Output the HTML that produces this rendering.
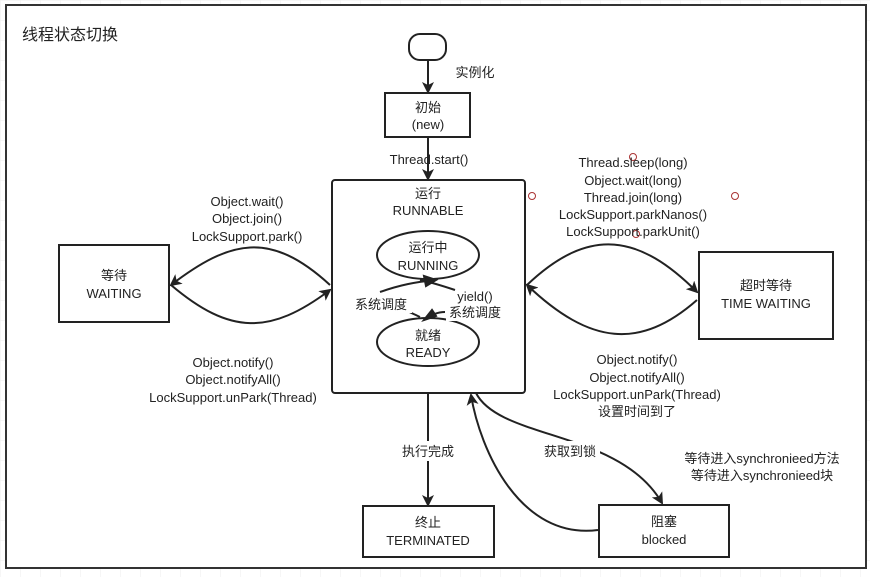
<!DOCTYPE html>
<html><head><meta charset="utf-8"><style>
body{margin:0;width:870px;height:577px;background:#fff;overflow:hidden}
text{font-family:"Liberation Sans","Noto Sans CJK SC",sans-serif;font-size:13px;fill:#222}
</style></head><body>
<svg width="870" height="577" viewBox="0 0 870 577">
<defs>
<marker id="a" markerWidth="12" markerHeight="12" refX="10" refY="6" orient="auto" markerUnits="userSpaceOnUse"><path d="M0,0 L12,6 L0,12 L3,6 z" fill="#222"/></marker>
<pattern id="g" width="20" height="20" patternUnits="userSpaceOnUse"><path d="M20 0H0V20" fill="none" stroke="#eee"/></pattern>
</defs>
<rect width="870" height="577" fill="url(#g)"/>
<rect x="6" y="5" width="860" height="563" fill="#fff" stroke="#333" stroke-width="2"/>
<text x="22" y="40" style="font-size:16px">线程状态切换</text>
<g fill="none" stroke="#222" stroke-width="2">
<rect x="409" y="34" width="37" height="26" rx="11"/>
<rect x="385" y="93" width="85" height="44"/>
<rect x="332" y="180" width="193" height="213" rx="3"/>
<rect x="59" y="245" width="110" height="77"/>
<rect x="699" y="252" width="134" height="87"/>
<rect x="363" y="506" width="131" height="51"/>
<rect x="599" y="505" width="130" height="52"/>
<ellipse cx="428" cy="255" rx="51" ry="24"/>
<ellipse cx="428" cy="342" rx="51" ry="24"/>
<path d="M428 60V92" marker-end="url(#a)"/>
<path d="M428 137V179" marker-end="url(#a)"/>
<path d="M330 285C270 230 230 240 171 285" marker-end="url(#a)"/>
<path d="M171 285C230 335 270 335 330 290" marker-end="url(#a)"/>
<path d="M527 285C590 225 640 235 697 292" marker-end="url(#a)"/>
<path d="M697 300C640 350 590 345 527 285" marker-end="url(#a)"/>
<path d="M428 393V505" marker-end="url(#a)"/>
<path d="M598 530C520 540 480 450 471 395" marker-end="url(#a)"/>
<path d="M476 393C500 440 620 430 662 503" marker-end="url(#a)"/>
<path d="M380 292C400 285 415 282 436 280"/>
<path d="M436 280l-12-4l2 10z" fill="#222"/>
<path d="M455 290C440 285 430 282 420 280"/>
<path d="M420 317C405 310 395 305 380 300"/>
<path d="M445 312C438 312 430 315 424 320"/>
<path d="M424 320l12-4l-4-6z" fill="#222"/>
</g>
<g fill="#fff"><rect x="398" y="441" width="60" height="20"/><rect x="538" y="441" width="62" height="20"/><rect x="352" y="296" width="60" height="17"/><rect x="446" y="305" width="58" height="16"/></g>
<g fill="none" stroke="#a33"><circle cx="633" cy="157" r="3.5"/><circle cx="532" cy="196" r="3.5"/><circle cx="735" cy="196" r="3.5"/><circle cx="636" cy="234" r="3.5"/></g>
<g text-anchor="middle">
<text x="475" y="77">实例化</text>
<text x="428" y="112">初始</text><text x="428" y="129">(new)</text>
<text x="429" y="164">Thread.start()</text>
<text x="428" y="198">运行</text><text x="428" y="215">RUNNABLE</text>
<text x="428" y="252">运行中</text><text x="428" y="270">RUNNING</text>
<text x="428" y="340">就绪</text><text x="428" y="357">READY</text>
<text x="381" y="309">系统调度</text>
<text x="475" y="301">yield()</text><text x="475" y="317">系统调度</text>
<text x="114" y="280">等待</text><text x="114" y="298">WAITING</text>
<text x="766" y="290">超时等待</text><text x="766" y="308">TIME WAITING</text>
<text x="428" y="527">终止</text><text x="428" y="545">TERMINATED</text>
<text x="664" y="526">阻塞</text><text x="664" y="544">blocked</text>
<text x="247" y="206">Object.wait()</text><text x="247" y="223">Object.join()</text><text x="247" y="241">LockSupport.park()</text>
<text x="233" y="367">Object.notify()</text><text x="233" y="384">Object.notifyAll()</text><text x="233" y="402">LockSupport.unPark(Thread)</text>
<text x="633" y="167">Thread.sleep(long)</text><text x="633" y="185">Object.wait(long)</text><text x="633" y="202">Thread.join(long)</text><text x="633" y="219">LockSupport.parkNanos()</text><text x="633" y="236">LockSupport.parkUnit()</text>
<text x="637" y="364">Object.notify()</text><text x="637" y="382">Object.notifyAll()</text><text x="637" y="399">LockSupport.unPark(Thread)</text><text x="637" y="416">设置时间到了</text>
<text x="428" y="456">执行完成</text>
<text x="570" y="456">获取到锁</text>
<text x="762" y="463">等待进入synchronieed方法</text><text x="762" y="480">等待进入synchronieed块</text>
</g>
</svg>
</body></html>
